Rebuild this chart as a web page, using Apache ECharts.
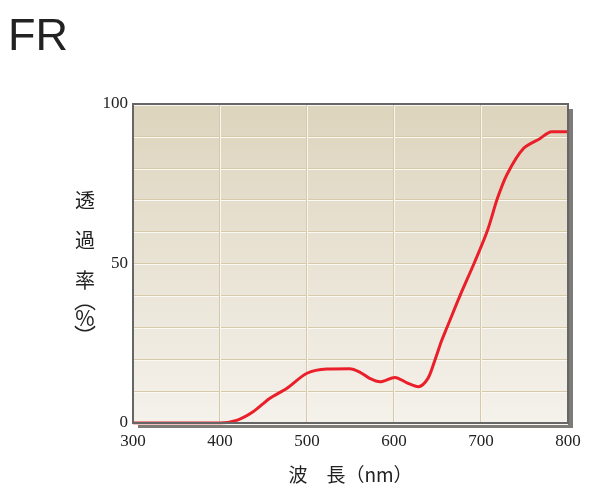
<!DOCTYPE html>
<html>
<head>
<meta charset="utf-8">
<script src="https://cdn.jsdelivr.net/npm/echarts@6/dist/echarts.min.js"></script>
<style>html,body{margin:0;padding:0;background:#fff;}#c{width:600px;height:500px;}</style>
</head>
<body>
<div id="c"></div>
<script>
const chartTitle = 'FR';
const xAxisTitle = '波　長（nm）';
const yAxisTitleChars = ['透', '過', '率', '%'];
const yTickLabels = [0, 50, 100];
const wavelengths = [300, 350, 400, 420, 438, 457, 477, 500, 523, 549, 561, 572, 584, 601, 615, 628, 639, 647, 655, 661, 676, 692, 707, 719, 730, 749, 768, 781, 790, 800];
const transmittance = [0, 0, 0, 0.9, 3.5, 7.7, 10.9, 15.6, 16.9, 17, 15.9, 14, 12.9, 14.3, 12.6, 11.4, 14, 19.7, 26, 30, 40, 50, 60, 70.5, 78, 86.1, 89.2, 91.3, 91.3, 91.3];

const chart = echarts.init(document.getElementById('c'), null, {renderer: 'canvas'});
const serif = '"Liberation Serif", "DejaVu Serif", serif';
const cjk = '"Noto Sans CJK JP", "Noto Sans CJK SC", sans-serif';

function txt(s, x, y, size) {
  return {type: 'text', x: x, y: y, z: 10, silent: true,
    style: {text: s, font: size + 'px ' + cjk, fill: '#222', textAlign: 'center', textVerticalAlign: 'middle'}};
}
function yTitle() {
  const ys = [200, 240, 280, 318];
  const g = yAxisTitleChars.map((ch, i) => txt(ch, 85, ys[i], ch === '%' ? 21 : 20));
  g.push(txt('︵', 85, 300, 22));
  g.push(txt('︶', 85, 336, 22));
  return g;
}

const option = {
  animation: false,
  title: {
    text: chartTitle, left: 3, top: 10,
    textStyle: {fontFamily: '"Liberation Sans", Arial, sans-serif', fontSize: 45, fontWeight: 'normal', color: '#222'}
  },
  grid: {
    left: 133, right: 32, top: 104, bottom: 77,
    show: true,
    borderColor: '#666', borderWidth: 2,
    backgroundColor: {
      type: 'linear', x: 0, y: 0, x2: 0, y2: 1,
      colorStops: [{offset: 0, color: '#ddd4bd'}, {offset: 1, color: '#f5f2ec'}]
    }
  },
  xAxis: {
    type: 'value', min: 300, max: 800, interval: 100,
    name: xAxisTitle, nameLocation: 'middle', nameGap: 42,
    nameTextStyle: {fontFamily: cjk, fontSize: 19, color: '#222'},
    axisLine: {show: false}, axisTick: {show: false},
    axisLabel: {fontFamily: serif, fontSize: 17, color: '#222', margin: 10},
    splitLine: {show: true, lineStyle: {color: '#f8f5ee', width: 1, shadowColor: '#d6caab', shadowOffsetX: -1}}
  },
  yAxis: {
    type: 'value', min: 0, max: 100, interval: 10,
    axisLine: {show: false}, axisTick: {show: false},
    axisLabel: {
      fontFamily: serif, fontSize: 17, color: '#222', margin: 5,
      formatter: v => yTickLabels.indexOf(v) >= 0 ? String(v) : ''
    },
    splitLine: {show: true, lineStyle: {color: '#d6caab', width: 1, shadowColor: '#fbf9f3', shadowOffsetY: 1}}
  },
  graphic: yTitle(),
  series: [{
    type: 'line',
    data: wavelengths.map((w, i) => [w, transmittance[i]]),
    smooth: 0.3,
    showSymbol: false,
    lineStyle: {color: '#ea1f2a', width: 3},
    z: 5
  }]
};
chart.setOption(option);

// frame and drop shadow around the plot area, positioned through the axes
const p0 = chart.convertToPixel({gridIndex: 0}, [300, 100]);
const p1 = chart.convertToPixel({gridIndex: 0}, [800, 0]);
const w = p1[0] - p0[0], h = p1[1] - p0[1];
const g = yTitle();
g.push({
  type: 'rect', z: -1, silent: true,
  shape: {x: p0[0] + 5, y: p0[1] + 5, width: w, height: h},
  style: {fill: '#7c7b77'}
});
g.push({
  type: 'rect', z: 100, silent: true,
  shape: {x: p0[0], y: p0[1], width: w, height: h},
  style: {fill: null, stroke: '#666', lineWidth: 2}
});
chart.setOption({graphic: g}, {replaceMerge: ['graphic']});
</script>
</body>
</html>
